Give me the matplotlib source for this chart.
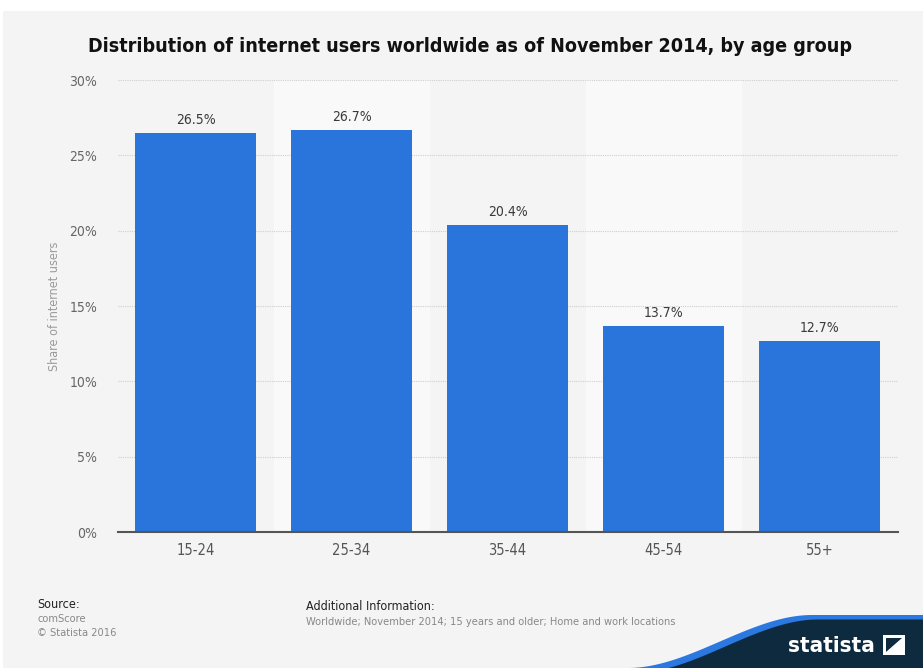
import matplotlib

matplotlib.use("Agg")
import matplotlib.pyplot as plt
import numpy as np
from matplotlib.patches import Rectangle, Polygon

age_groups = ["15-24", "25-34", "35-44", "45-54", "55+"]
shares = [26.5, 26.7, 20.4, 13.7, 12.7]
y_ticks = [0, 5, 10, 15, 20, 25, 30]

title = "Distribution of internet users worldwide as of November 2014, by age group"
y_label = "Share of internet users"
source_lines = ["comScore", "\u00a9 Statista 2016"]
additional_info = "Worldwide; November 2014; 15 years and older; Home and work locations"

BAR_BLUE = "#2975dc"
BG = "#f4f4f4"
NAVY = "#0d2a3f"
W, H = 923, 668

plt.rcParams["font.family"] = ["DejaVu Sans"]
plt.rcParams["font.stretch"] = "condensed"


def fig_xy(px, py):
    return px / W, 1 - py / H


fig = plt.figure(figsize=(W / 100, H / 100), dpi=100)
fig.patch.set_facecolor("white")
# grey card behind everything
fig.patches.append(Rectangle((3 / W, 0), 1, 1 - 11 / H, transform=fig.transFigure,
                             facecolor=BG, edgecolor="none", zorder=-10))

ax = fig.add_axes([117.5 / W, 1 - 532 / H, 780 / W, 452 / H])
ax.set_facecolor(BG)

x = np.arange(len(age_groups))
# alternating column shading
for i in x:
    if i % 2 == 1:
        ax.axvspan(i - 0.5, i + 0.5, color="#f9f9f9", zorder=0, lw=0)

ax.bar(x, shares, width=0.776, color=BAR_BLUE, zorder=3)
for xi, v in zip(x, shares):
    ax.text(xi, v + 0.4, f"{v:.1f}%", ha="center", va="bottom", fontsize=10,
            color="#3a3a3a", zorder=4)

ax.set_xlim(-0.5, len(age_groups) - 0.5)
ax.set_ylim(0, 30)
ax.set_yticks(y_ticks)
ax.set_yticklabels([f"{t}%" for t in y_ticks])
ax.set_xticks(x)
ax.set_xticklabels(age_groups)
ax.tick_params(axis="y", length=0, pad=14.8, labelsize=10, labelcolor="#666666")
ax.tick_params(axis="x", length=0, pad=8, labelsize=10.5, labelcolor="#555555")
ax.yaxis.grid(True, color="#cfcfcf", linestyle=(0, (1, 1)), linewidth=0.8, zorder=1)
ax.set_axisbelow(True)
for side in ["top", "right", "left"]:
    ax.spines[side].set_visible(False)
ax.spines["bottom"].set_color("#555555")
ax.spines["bottom"].set_linewidth(1.5)
ax.spines["bottom"].set_zorder(5)
ax.set_ylabel(y_label, fontsize=9, color="#9a9a9a")
ax.yaxis.set_label_coords(-56 / 780, 0.5)

fig.text(*fig_xy(470, 46), title, ha="center", va="center", fontsize=14.1,
         fontweight="bold", color="#111111")

# footer
fig.text(*fig_xy(37, 605), "Source:", fontsize=9, color="#222222", va="center")
for k, line in enumerate(source_lines):
    fig.text(*fig_xy(37, 619 + 14 * k), line, fontsize=7.9, color="#888888", va="center")
fig.text(*fig_xy(306, 606), "Additional Information:", fontsize=9, color="#222222", va="center")
fig.text(*fig_xy(306, 622), additional_info, fontsize=7.9, color="#888888", va="center")


# statista badge
def wave(x0, x1, y0, y1):
    xs = np.linspace(x0, W, 150)
    t = np.clip((xs - x0) / (x1 - x0), 0, 1)
    ys = y0 + (y1 - y0) * (3 * t ** 2 - 2 * t ** 3)
    return [(x0, H + 10)] + list(zip(xs, ys)) + [(W, H + 10)]


blue_pts = wave(628, 812, 668, 615)
navy_pts = wave(634, 818, 673, 619.5)
fig.patches.append(Polygon([fig_xy(*p) for p in blue_pts], closed=True,
                           transform=fig.transFigure, facecolor="#2b78e0", edgecolor="none", zorder=1))
fig.patches.append(Polygon([fig_xy(*p) for p in navy_pts], closed=True,
                           transform=fig.transFigure, facecolor=NAVY, edgecolor="none", zorder=2))
fig.text(*fig_xy(831, 646), "statista", ha="center", va="center", fontsize=16,
         fontweight="bold", color="white", zorder=3)
fig.patches.append(Rectangle(fig_xy(883, 655), 22 / W, 20 / H, transform=fig.transFigure,
                             facecolor="white", edgecolor="none", zorder=3))
fig.patches.append(Polygon([fig_xy(886, 652), fig_xy(902, 638), fig_xy(886, 638)],
                           closed=True, transform=fig.transFigure, facecolor=NAVY,
                           edgecolor="none", zorder=4))

fig.savefig("out.png", dpi=100, facecolor=fig.get_facecolor())
